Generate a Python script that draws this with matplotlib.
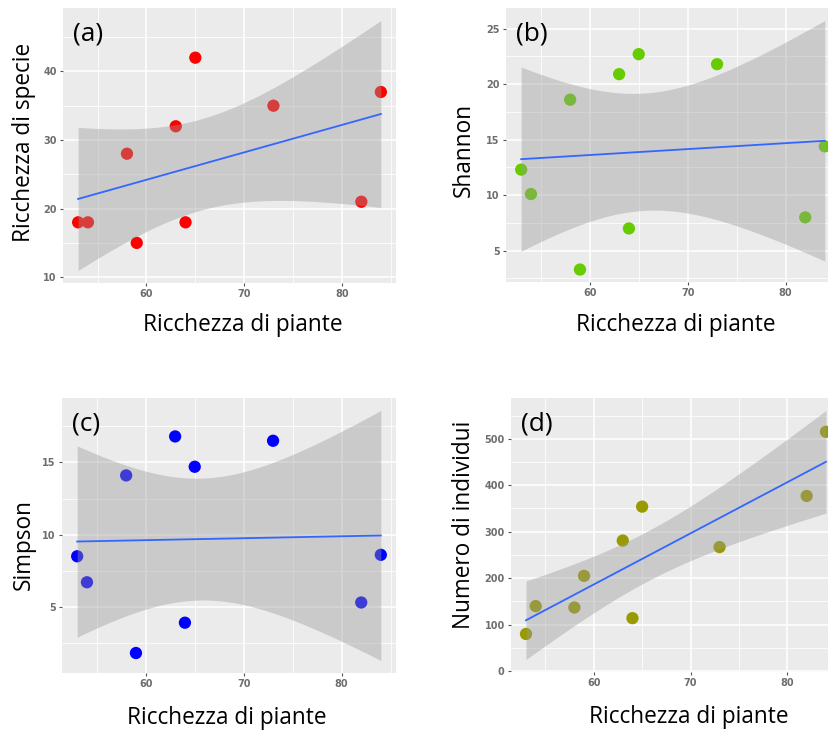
import numpy as np
import matplotlib
matplotlib.use("Agg")
import matplotlib.pyplot as plt
from matplotlib.ticker import FixedLocator

# Plant richness per site (shared x) and the four community measures
plant_richness = [53, 54, 58, 59, 63, 64, 65, 73, 82, 84]
species_richness = [18, 18, 28, 15, 32, 18, 42, 35, 21, 37]
shannon = [12.3, 10.1, 18.6, 3.3, 20.9, 7.0, 22.7, 21.8, 8.0, 14.4]
simpson = [8.5, 6.7, 14.1, 1.8, 16.8, 3.9, 14.7, 16.5, 5.3, 8.6]
individuals = [80, 140, 137, 205, 281, 114, 354, 267, 377, 515]

x_ticks = [60, 70, 80]
y_ticks_a = [10, 20, 30, 40]
y_ticks_b = [5, 10, 15, 20, 25]
y_ticks_c = [5, 10, 15]
y_ticks_d = [0, 100, 200, 300, 400, 500]

x_label = "Ricchezza di piante"
y_labels = ["Ricchezza di specie", "Shannon", "Simpson", "Numero di individui"]
panel_tags = ["(a)", "(b)", "(c)", "(d)"]
point_colors = ["#ff0000", "#66cc00", "#0000ff", "#999900"]

T975_DF8 = 2.306004  # two-sided 95% t quantile, 8 degrees of freedom

FONT = "Open Sans"
W, H = 829, 731
fig = plt.figure(figsize=(W / 100, H / 100), dpi=100)
fig.patch.set_facecolor("white")


def lm_band(x, y, n=80):
    x = np.asarray(x, float)
    y = np.asarray(y, float)
    b1, b0 = np.polyfit(x, y, 1)
    resid = y - (b0 + b1 * x)
    s = np.sqrt(np.sum(resid ** 2) / (len(x) - 2))
    xs = np.linspace(x.min(), x.max(), n)
    se = s * np.sqrt(1 / len(x) + (xs - x.mean()) ** 2 / np.sum((x - x.mean()) ** 2))
    fit = b0 + b1 * xs
    return xs, fit, fit - T975_DF8 * se, fit + T975_DF8 * se


def expand(lo, hi, frac=0.05):
    pad = (hi - lo) * frac
    return lo - pad, hi + pad


def midpoints(ticks, lo, hi):
    step = ticks[1] - ticks[0]
    cands = np.arange(ticks[0] - step * 1.5, ticks[-1] + step * 2, step)
    return [c for c in cands if lo <= c <= hi]


def px_rect(left, top, right, bottom):
    return [left / W, 1 - bottom / H, (right - left) / W, (bottom - top) / H]


def panel(rect, y, yticks, color, tag):
    ax = fig.add_axes(rect)
    ax.set_facecolor("#ebebeb")
    xs, fit, lo, hi = lm_band(plant_richness, y)
    ax.scatter(plant_richness, y, s=78, color=color, edgecolors="none", zorder=2)
    ax.fill_between(xs, lo, hi, color="#999999", alpha=0.4, linewidth=0, zorder=3)
    ax.plot(xs, fit, color="#3366ff", lw=1.3, zorder=4)

    xlim = expand(min(plant_richness), max(plant_richness))
    ylim = expand(min(min(y), lo.min()), max(max(y), hi.max()))
    ax.set_xlim(*xlim)
    ax.set_ylim(*ylim)

    ax.set_xticks(x_ticks)
    ax.set_yticks(yticks)
    ax.set_yticklabels([str(t) for t in yticks])
    ax.xaxis.set_minor_locator(FixedLocator(midpoints(x_ticks, *xlim)))
    ax.yaxis.set_minor_locator(FixedLocator(midpoints(yticks, *ylim)))
    ax.grid(which="major", color="white", lw=1.1, zorder=0)
    ax.grid(which="minor", color="white", lw=0.55, zorder=0)
    ax.set_axisbelow(True)
    ax.tick_params(which="major", length=2.5, width=0.8, color="#555555",
                   labelsize=7, labelcolor="#6e6e6e", pad=2)
    ax.tick_params(which="minor", length=0)
    for lab in ax.get_xticklabels() + ax.get_yticklabels():
        lab.set_fontfamily("DejaVu Sans")
        lab.set_fontweight("bold")
    for sp in ax.spines.values():
        sp.set_visible(False)
    ax.text(0.03, 0.95, tag, transform=ax.transAxes, ha="left", va="top",
            fontsize=19, family=FONT, color="black")
    return ax


panel(px_rect(63, 8, 396, 283), species_richness, y_ticks_a, point_colors[0], panel_tags[0])
panel(px_rect(506, 8, 840, 282), shannon, y_ticks_b, point_colors[1], panel_tags[1])
panel(px_rect(62, 398, 396, 673), simpson, y_ticks_c, point_colors[2], panel_tags[2])
panel(px_rect(511, 398, 841, 672), individuals, y_ticks_d, point_colors[3], panel_tags[3])

# Axis titles placed in pixel coordinates
def ftext(x, y, s, rot=0, size=16.3):
    fig.text(x / W, 1 - y / H, s, rotation=rot, ha="center", va="center",
             fontsize=size, family=FONT, color="black")

ftext(243, 325, x_label)
ftext(676, 325, x_label)
ftext(227, 718, x_label)
ftext(689, 717, x_label)
ftext(24, 142, y_labels[0], rot=90)
ftext(464, 150, y_labels[1], rot=90)
ftext(24, 545, y_labels[2], rot=90)
ftext(464, 525, y_labels[3], rot=90)

fig.savefig("out.png", dpi=100)
